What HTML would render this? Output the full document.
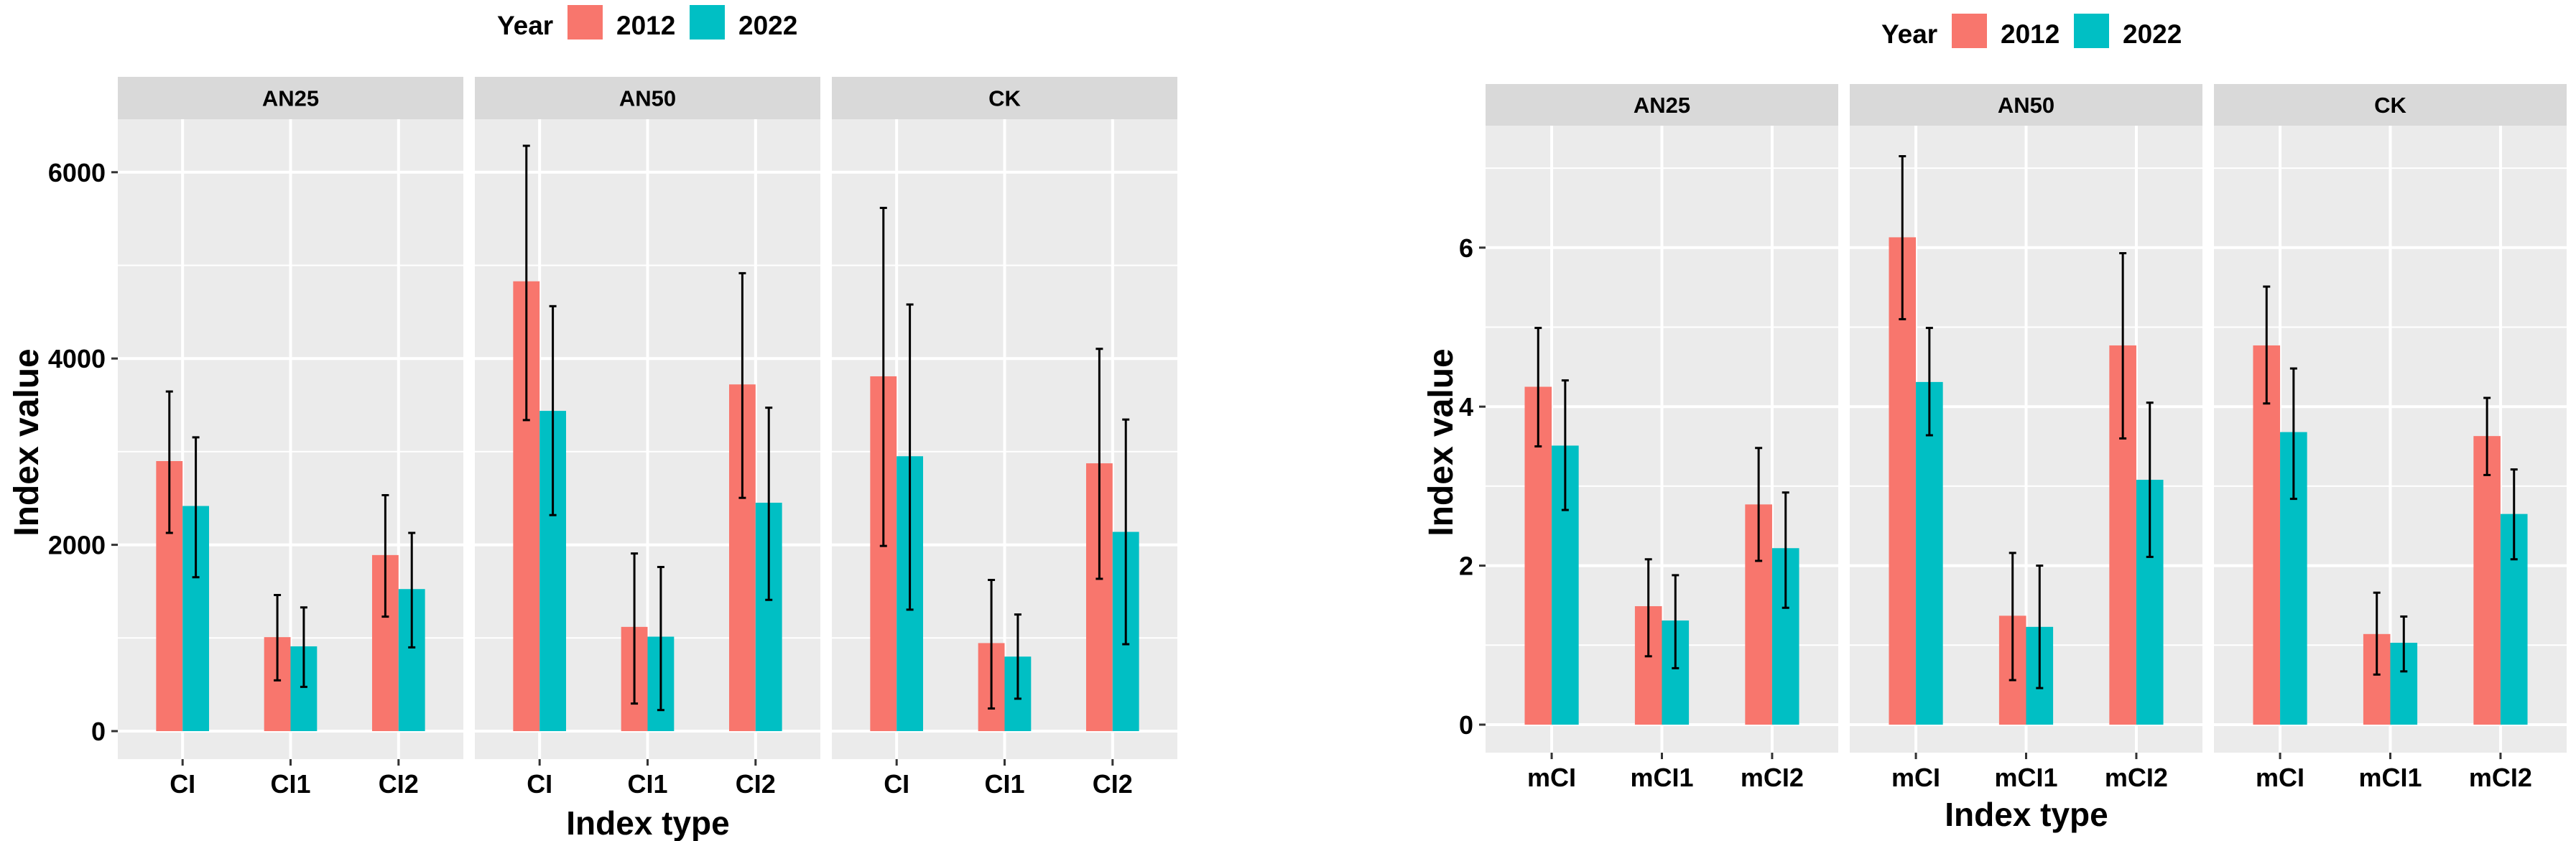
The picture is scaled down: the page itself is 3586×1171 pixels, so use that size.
<!DOCTYPE html>
<html><head><meta charset="utf-8"><style>
html,body{margin:0;padding:0;background:#fff;}
svg{display:block;}
text{font-family:"Liberation Sans",Arial,sans-serif;font-weight:bold;fill:#000;}
</style></head><body>
<svg id="chart" width="3586" height="1171" viewBox="0 0 3586 1171" xmlns="http://www.w3.org/2000/svg"></svg>
<script>
// ---- Data: left chart (CI) ----
const facets = ["AN25", "AN50", "CK"];
const years = ["2012", "2022"];
const leftCategories = ["CI", "CI1", "CI2"];
const leftTicks = [0, 2000, 4000, 6000];
const leftMinor = [1000, 3000, 5000];
// values per facet, per category
const left2012 = [[2899, 1009, 1890], [4829, 1119, 3722], [3809, 945, 2875]];
const left2022 = [[2417, 910, 1525], [3438, 1014, 2452], [2951, 800, 2139]];
const left2012Lo = [[2128, 545, 1229], [3339, 296, 2504], [1988, 243, 1635]];
const left2012Hi = [[3646, 1461, 2533], [6284, 1907, 4916], [5617, 1623, 4104]];
const left2022Lo = [[1652, 475, 899], [2319, 226, 1409], [1304, 348, 933]];
const left2022Hi = [[3154, 1328, 2128], [4562, 1762, 3472], [4580, 1252, 3345]];

// ---- Data: right chart (mCI) ----
const rightCategories = ["mCI", "mCI1", "mCI2"];
const rightTicks = [0, 2, 4, 6];
const rightMinor = [1, 3, 5, 7];
const right2012 = [[4.25, 1.49, 2.77], [6.13, 1.37, 4.77], [4.77, 1.14, 3.63]];
const right2022 = [[3.51, 1.31, 2.22], [4.31, 1.23, 3.08], [3.68, 1.03, 2.65]];
const right2012Lo = [[3.50, 0.86, 2.06], [5.10, 0.56, 3.60], [4.04, 0.63, 3.14]];
const right2012Hi = [[4.99, 2.08, 3.48], [7.15, 2.16, 5.93], [5.51, 1.66, 4.11]];
const right2022Lo = [[2.70, 0.71, 1.47], [3.64, 0.46, 2.11], [2.84, 0.67, 2.08]];
const right2022Hi = [[4.33, 1.88, 2.92], [4.99, 2.00, 4.05], [4.48, 1.36, 3.21]];

const COLORS = ["#F8766D", "#00BFC4"];
const NS = "http://www.w3.org/2000/svg";
const svg = document.getElementById("chart");

function mk(tag, attrs, parent) {
  const e = document.createElementNS(NS, tag);
  for (const k in attrs) e.setAttribute(k, attrs[k]);
  (parent || svg).appendChild(e);
  return e;
}

function drawChart(cfg) {
  const g = mk("g", {});
  
  
  const y0 = cfg.y0, pxPerUnit = cfg.pxPerUnit;
  const yScale = v => y0 - v * pxPerUnit;

  // legend
  const lg = mk("g", {}, g);
  
  
  const lt = mk("text", {x: cfg.legX, y: cfg.legBase, "font-size": 37}, lg);
  lt.textContent = "Year";
  
  
  years.forEach((yr, i) => {
    const bx = cfg.legX + 98 + i * 170;
    const r = mk("rect", {x: bx, y: cfg.legTop, width: 49, height: 48, fill: COLORS[i]}, lg);
    
    
    const t = mk("text", {x: bx + 68, y: cfg.legBase, "font-size": 37}, lg);
    t.textContent = yr;
    
    
  });

  facets.forEach((f, fi) => {
    const px = cfg.panelX + fi * (cfg.panelW + cfg.gap);
    const pw = cfg.panelW;
    const unit = pw / 3.2;
    const xScale = ci => px + (0.6 + ci) * unit;
    // strip
    const strip = mk("rect", {x: px, y: cfg.stripTop, width: pw, height: cfg.plotTop - cfg.stripTop, fill: "#D9D9D9"}, g);
    
    
    const st = mk("text", {x: px + pw / 2, y: cfg.stripTop + (cfg.plotTop - cfg.stripTop) / 2 + 11, "font-size": 31, "text-anchor": "middle", fill: "#1A1A1A", style: "font-family:'Liberation Sans Narrow','Liberation Sans',sans-serif;font-weight:bold"}, g);
    st.textContent = f;
    
    
    // panel
    const bg = mk("rect", {x: px, y: cfg.plotTop, width: pw, height: cfg.plotBottom - cfg.plotTop, fill: "#EBEBEB"}, g);
    
    
    cfg.minor.forEach(v => {
      const l = mk("line", {x1: px, x2: px + pw, y1: yScale(v), y2: yScale(v), stroke: "#fff", "stroke-width": 2}, g);
      
      
    });
    cfg.ticks.forEach(v => {
      const l = mk("line", {x1: px, x2: px + pw, y1: yScale(v), y2: yScale(v), stroke: "#fff", "stroke-width": 4}, g);
      
      
    });
    cfg.cats.forEach((c, ci) => {
      const cx = xScale(ci);
      const l = mk("line", {x1: cx, x2: cx, y1: cfg.plotTop, y2: cfg.plotBottom, stroke: "#fff", "stroke-width": 4}, g);
      
      
    });
    // bars
    cfg.cats.forEach((c, ci) => {
      const cx = xScale(ci);
      const bw = unit * 0.245;
      [cfg.v2012, cfg.v2022].forEach((vals, si) => {
        const v = vals[fi][ci];
        const bx = si === 0 ? cx - bw : cx;
        const r = mk("rect", {x: bx, y: yScale(v), width: bw, height: y0 - yScale(v), fill: COLORS[si]}, g);
        
        
      });
      [[cfg.lo2012, cfg.hi2012], [cfg.lo2022, cfg.hi2022]].forEach((lh, si) => {
        const ex = si === 0 ? cx - bw / 2 : cx + bw / 2;
        const lo = yScale(lh[0][fi][ci]), hi = yScale(lh[1][fi][ci]);
        const eg = mk("g", {stroke: "#000", "stroke-width": 3}, g);
        
        
        mk("line", {x1: ex, x2: ex, y1: lo, y2: hi}, eg);
        mk("line", {x1: ex - 5, x2: ex + 5, y1: lo, y2: lo}, eg);
        mk("line", {x1: ex - 5, x2: ex + 5, y1: hi, y2: hi}, eg);
      });
      // x tick
      const tk = mk("line", {x1: cx, x2: cx, y1: cfg.plotBottom, y2: cfg.plotBottom + 9, stroke: "#333", "stroke-width": 3}, g);
      
      
      const tl = mk("text", {x: cx, y: cfg.plotBottom + 47, "font-size": 36, "text-anchor": "middle"}, g);
      tl.textContent = c;
      
      
    });
  });

  // y axis ticks
  cfg.ticks.forEach(v => {
    const tk = mk("line", {x1: cfg.panelX - 9, x2: cfg.panelX, y1: yScale(v), y2: yScale(v), stroke: "#333", "stroke-width": 3}, g);
    
    
    const tl = mk("text", {x: cfg.panelX - 17, y: yScale(v) + 13, "font-size": 36, "text-anchor": "end"}, g);
    tl.textContent = String(v);
    
    
  });
  const yt = mk("text", {x: 0, y: 0, "font-size": 48, "text-anchor": "middle", transform: `translate(${cfg.yTitleX},${cfg.yTitleY}) rotate(-90)`}, g);
  yt.textContent = "Index value";
  
  
  const xt = mk("text", {x: cfg.xTitleX, y: cfg.xTitleBase, "font-size": 46, "text-anchor": "middle"}, g);
  xt.textContent = "Index type";
  
  
}

drawChart({
  name: "ci-chart", cats: leftCategories, ticks: leftTicks, minor: leftMinor,
  v2012: left2012, v2022: left2022, lo2012: left2012Lo, hi2012: left2012Hi, lo2022: left2022Lo, hi2022: left2022Hi,
  y0: 1018, pxPerUnit: 129.7 / 1000, panelX: 164, panelW: 481, gap: 16,
  stripTop: 107, plotTop: 166, plotBottom: 1057,
  legX: 692, legTop: 7, legBase: 48,
  yTitleX: 53, yTitleY: 616, xTitleX: 902, xTitleBase: 1162
});
drawChart({
  name: "mci-chart", cats: rightCategories, ticks: rightTicks, minor: rightMinor,
  v2012: right2012, v2022: right2022, lo2012: right2012Lo, hi2012: right2012Hi, lo2022: right2022Lo, hi2022: right2022Hi,
  y0: 1009, pxPerUnit: 110.7, panelX: 2068, panelW: 491, gap: 16,
  stripTop: 117, plotTop: 175, plotBottom: 1048,
  legX: 2619, legTop: 19, legBase: 60,
  yTitleX: 2022, yTitleY: 616, xTitleX: 2821, xTitleBase: 1150
});
</script>
</body></html>
